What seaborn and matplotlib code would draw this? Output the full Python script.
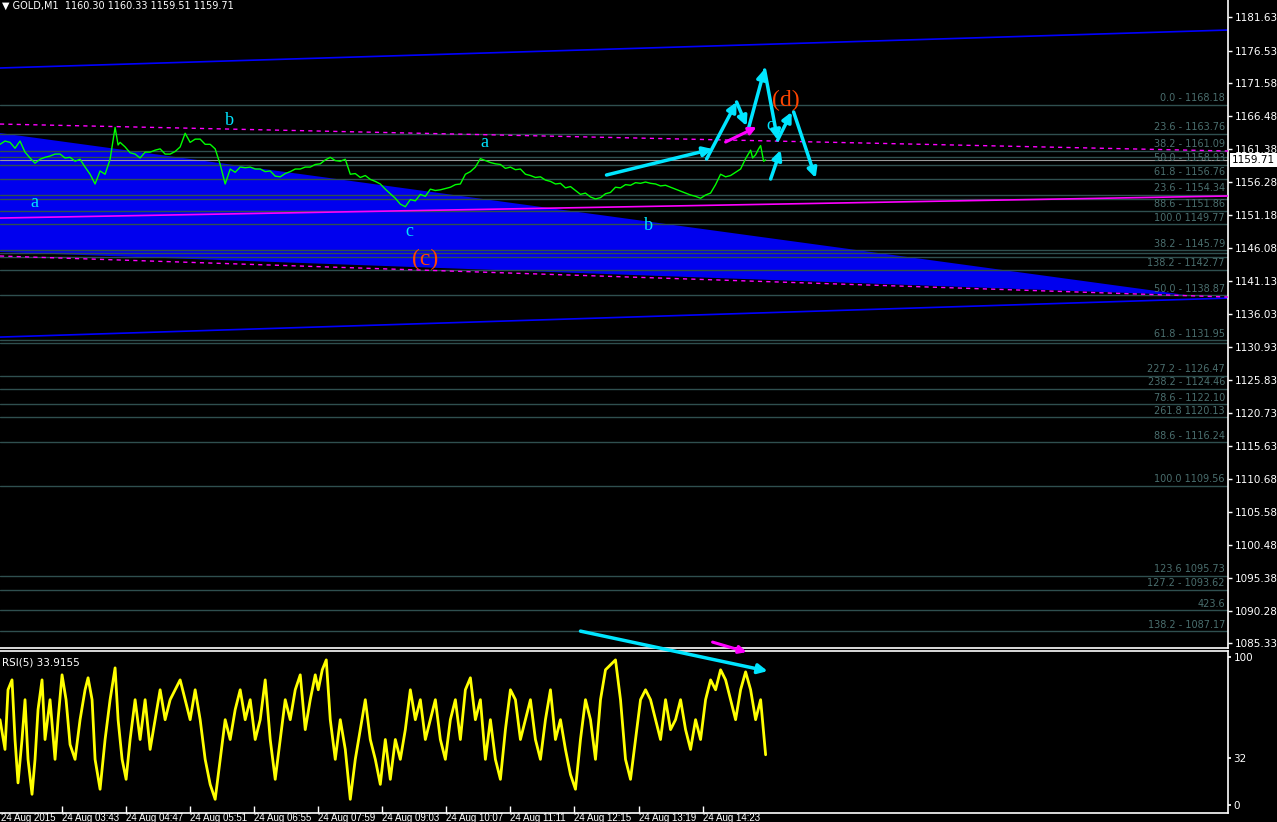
import numpy as np
import pandas as pd
import seaborn as sns
from matplotlib import pyplot as plt
from matplotlib.transforms import blended_transform_factory

sns.set_theme(style="dark")
plt.rcParams["font.family"] = ["DejaVu Sans"]

# ---- price (GOLD M1), bar index vs price ----
price_x = [0, 5, 10, 15, 20, 25, 30, 35, 40, 45, 50, 55, 60, 65, 70, 75, 80, 85, 90, 95,
           100, 105, 110, 115, 118, 120, 125, 130, 135, 140, 145, 150, 155, 160, 165, 170,
           175, 180, 185, 190, 195, 200, 205, 210, 215, 220, 225, 230, 235, 240, 245, 250,
           255, 260, 265, 270, 275, 280, 285, 290, 295, 300, 305, 310, 315, 320, 325, 330,
           335, 340, 345, 350, 355, 360, 365, 370, 375, 380, 385, 390, 395, 400, 405, 410,
           415, 420, 425, 430, 435, 440, 445, 450, 455, 460, 465, 470, 475, 480, 485, 490,
           495, 500, 505, 510, 515, 520, 525, 530, 535, 540, 545, 550, 555, 560, 565, 570,
           575, 580, 585, 590, 595, 600, 605, 610, 615, 620, 625, 630, 635, 640, 645, 650,
           655, 660, 665, 670, 675, 680, 685, 690, 695, 700, 705, 710, 715, 720, 725, 730,
           735, 740, 745, 750, 752, 755, 758, 760, 763, 765]
price_y = [1162.1, 1162.6, 1162.4, 1161.5, 1162.6, 1160.9, 1160.0, 1159.2, 1159.8, 1160.1,
           1160.3, 1160.6, 1160.6, 1160.0, 1160.1, 1159.5, 1159.8, 1158.6, 1157.5, 1156.0,
           1158.0, 1157.5, 1159.8, 1164.7, 1162.0, 1162.4, 1161.7, 1160.8, 1160.6, 1160.0,
           1160.9, 1160.9, 1161.2, 1161.4, 1160.6, 1160.6, 1161.0, 1161.7, 1163.8, 1162.4,
           1162.9, 1162.9, 1162.1, 1162.1, 1161.4, 1159.0, 1156.0, 1158.3, 1157.8, 1158.6,
           1158.5, 1158.6, 1158.3, 1158.3, 1157.9, 1158.0, 1157.2, 1157.1, 1157.6, 1157.9,
           1158.3, 1158.3, 1158.6, 1158.6, 1159.0, 1159.1, 1159.7, 1160.1, 1159.6, 1159.5,
           1159.8, 1157.5, 1157.6, 1157.0, 1157.3, 1156.7, 1156.4, 1156.0, 1155.2, 1154.5,
           1153.8, 1152.9, 1152.5, 1153.6, 1153.4, 1154.4, 1154.1, 1155.2, 1155.0, 1155.1,
           1155.3, 1155.5, 1155.9, 1156.0, 1157.5, 1157.9, 1158.6, 1159.9, 1159.6, 1159.3,
           1159.1, 1159.0, 1158.4, 1158.6, 1158.2, 1158.3, 1157.5, 1157.3, 1157.0, 1157.1,
           1156.6, 1156.4, 1156.0, 1156.1, 1155.4, 1155.6, 1155.0, 1154.4, 1154.6, 1154.0,
           1153.7, 1153.9, 1154.5, 1154.7, 1155.5, 1155.4, 1155.9, 1155.8, 1156.2, 1156.1,
           1156.3, 1156.1, 1156.0, 1155.7, 1155.8, 1155.5, 1155.2, 1154.9, 1154.6, 1154.3,
           1154.1, 1153.8, 1154.3, 1154.6, 1155.9, 1157.5, 1157.1, 1157.3, 1157.8, 1158.3,
           1159.9, 1161.2, 1160.0, 1160.5, 1161.4, 1161.9, 1159.5, 1159.7]

# ---- RSI(5) ----
rsi_x = [0, 5, 8, 12, 15, 18, 22, 25, 28, 32, 35, 38, 42, 45, 50, 55, 58, 62, 66, 70, 75,
         80, 85, 88, 92, 95, 100, 105, 110, 115, 118, 122, 126, 130, 135, 140, 145, 150,
         155, 160, 165, 170, 175, 180, 185, 190, 195, 200, 205, 210, 215, 220, 225, 230,
         235, 240, 245, 250, 255, 260, 265, 270, 275, 280, 285, 290, 295, 300, 305, 310,
         315, 318, 322, 326, 330, 335, 340, 345, 350, 355, 360, 365, 370, 375, 380, 385,
         390, 395, 400, 405, 410, 415, 420, 425, 430, 435, 440, 445, 450, 455, 460, 465,
         470, 475, 480, 485, 490, 495, 500, 505, 510, 515, 520, 525, 530, 535, 540, 545,
         550, 555, 560, 565, 570, 575, 580, 585, 590, 595, 600, 605, 610, 615, 620, 625,
         630, 635, 640, 645, 650, 655, 660, 665, 670, 675, 680, 685, 690, 695, 700, 705,
         710, 715, 720, 725, 730, 735, 740, 745, 750, 755, 760, 765]
rsi_y = [57.6, 37.5, 77.8, 84.5, 44.2, 14.9, 44.2, 71.1, 30.8, 7.2, 30.8, 64.4, 84.5, 44.2,
         71.1, 30.8, 57.6, 87.9, 71.1, 40.8, 30.8, 57.6, 77.8, 85.9, 71.1, 30.8, 10.6, 44.2,
         71.1, 92.6, 57.6, 30.8, 17.3, 44.2, 71.1, 44.2, 71.1, 37.5, 57.6, 77.8, 57.6, 71.1,
         77.8, 84.5, 71.1, 57.6, 77.8, 57.6, 30.8, 13.9, 3.8, 30.8, 57.6, 44.2, 64.4, 77.8,
         57.6, 71.1, 44.2, 57.6, 84.5, 44.2, 17.3, 44.2, 71.1, 57.6, 77.8, 87.9, 50.9, 71.1,
         87.9, 77.8, 91.3, 98.0, 57.6, 30.8, 57.6, 37.5, 3.8, 30.8, 50.9, 71.1, 44.2, 30.8,
         13.9, 44.2, 17.3, 44.2, 30.8, 50.9, 77.8, 57.6, 71.1, 44.2, 57.6, 71.1, 44.2, 30.8,
         57.6, 71.1, 44.2, 77.8, 85.9, 57.6, 71.1, 30.8, 57.6, 30.8, 17.3, 50.9, 77.8, 71.1,
         44.2, 57.6, 71.1, 44.2, 30.8, 57.6, 77.8, 44.2, 57.6, 37.5, 20.6, 10.6, 44.2, 71.1,
         57.6, 30.8, 71.1, 91.3, 94.6, 98.0, 71.1, 30.8, 17.3, 44.2, 71.1, 77.8, 71.1, 57.6,
         44.2, 71.1, 50.9, 57.6, 71.1, 50.9, 37.5, 57.6, 44.2, 71.1, 84.5, 77.8, 91.3, 84.5,
         71.1, 57.6, 77.8, 89.9, 77.8, 57.6, 71.1, 33.9]

# ---- fibonacci levels (labelled) ----
fib_levels = [1168.18, 1163.76, 1161.09, 1158.93, 1156.76, 1154.34, 1151.86, 1149.77,
              1145.79, 1142.77, 1138.87, 1131.95, 1126.47, 1124.46, 1122.10, 1120.13,
              1116.24, 1109.56, 1095.73, 1093.62, 1090.44, 1087.17]
fib_labels = ["0.0 - 1168.18", "23.6 - 1163.76", "38.2 - 1161.09", "50.0 - 1158.93",
              "61.8 - 1156.76", "23.6 - 1154.34", "88.6 - 1151.86", "100.0 1149.77",
              "38.2 - 1145.79", "138.2 - 1142.77", "50.0 - 1138.87", "61.8 - 1131.95",
              "227.2 - 1126.47", "238.2 - 1124.46", "78.6 - 1122.10", "261.8 1120.13",
              "88.6 - 1116.24", "100.0 1109.56", "123.6 1095.73", "127.2 - 1093.62",
              "423.6", "138.2 - 1087.17"]
extra_levels = [1160.2, 1153.7, 1145.34, 1144.81, 1131.55]

price_ticks = [1181.63, 1176.53, 1171.58, 1166.48, 1161.38, 1156.28, 1151.18, 1146.08,
               1141.13, 1136.03, 1130.93, 1125.83, 1120.73, 1115.63, 1110.68, 1105.58,
               1100.48, 1095.38, 1090.28, 1085.33]
time_ticks = [62, 126, 190, 254, 318, 382, 446, 510, 574, 638, 702]
time_labels = ["24 Aug 03:43", "24 Aug 04:47", "24 Aug 05:51", "24 Aug 06:55",
               "24 Aug 07:59", "24 Aug 09:03", "24 Aug 10:07", "24 Aug 11:11",
               "24 Aug 12:15", "24 Aug 13:19", "24 Aug 14:23"]

# wave labels
waves = [("a", 34, 1153.2), ("b", 229, 1165.84), ("c", 409, 1148.76), ("a", 484, 1162.45),
         ("b", 648, 1149.68), ("c", 770, 1165.07)]
big_waves = [("(c)", 425, 1144.45), ("(d)", 785, 1168.92)]

# drawn arrows (tail x, tail price, tip x, tip price)
cyan_arrows = [(606, 1157.38, 712, 1161.38), (706, 1159.84, 736, 1168.61),
               (736, 1168.61, 746, 1164.92), (748, 1164.61, 764, 1173.68),
               (764, 1173.53, 777, 1162.76), (777, 1162.76, 791, 1167.07),
               (793, 1167.07, 815, 1156.92), (770, 1156.76, 780, 1161.22),
               (580, 1087.22, 767, 1081.07)]
magenta_arrows = [(725, 1162.45, 756, 1164.76), (712, 1085.53, 746, 1083.99)]

W, H = 1277, 822
fig = plt.figure(figsize=(W / 100, H / 100), dpi=100, facecolor="black")
ax = fig.add_axes([0, 1 - 647.5 / H, 1228 / W, 647.5 / H], facecolor="black")
ax2 = fig.add_axes([0, (H - 812.5) / H, 1228 / W, (812.5 - 650.7) / H], facecolor="black")
ax.set_zorder(2)
ax2.set_zorder(1)

ax.set_xlim(0, 1227)
ax.set_ylim(1084.7, 1184.3)
ax2.set_xlim(0, 1227)
ax2.set_ylim(-5.1, 104.2)

CYAN = "#00e5ff"
MAG = "#ff00ff"
FIB = "#2f4f4f"

# blue triangle and channel
ax.fill([0, 0, 1185], [1163.84, 1145.53, 1138.92], color="#0000ee", lw=0, zorder=1)
ax.plot([0, 1227], [1173.84, 1179.68], color="#0000ff", lw=1.2, zorder=2)
ax.plot([0, 1227], [1132.45, 1138.45], color="#0000ff", lw=1.2, zorder=2)

# fib lines
for lvl, lab in zip(fib_levels, fib_labels):
    ax.axhline(lvl, color=FIB, lw=1, zorder=2)
    ax.text(1224, lvl + 0.25, lab, color="#4a6e6e", fontsize=7, ha="right", va="bottom",
            zorder=3)
for lvl in extra_levels:
    ax.axhline(lvl, color=FIB, lw=1, zorder=2)
ax.axhline(1159.71, color="#9a9a9a", lw=0.8, zorder=2)

# magenta trend lines
ax.plot([0, 1227], [1165.22, 1161.07], color=MAG, lw=1, ls=(0, (3, 3)), zorder=3)
ax.plot([0, 1227], [1150.76, 1154.15], color=MAG, lw=1.2, zorder=3)
ax.plot([0, 1227], [1144.92, 1138.61], color=MAG, lw=1, ls=(0, (3, 3)), zorder=3)

# price line
df_price = pd.DataFrame({"bar": price_x, "price": price_y})
sns.lineplot(data=df_price, x="bar", y="price", ax=ax, color="#00ff00", lw=1,
             estimator=None, sort=False, zorder=4)

# wave labels
for t, x, y in waves:
    ax.text(x, y, t, color=CYAN, fontsize=13, family="Liberation Serif", ha="center",
            va="center", zorder=5)
for t, x, y in big_waves:
    ax.text(x, y, t, color="#ff4500", fontsize=17, family="Liberation Serif", ha="center",
            va="center", zorder=5)

for x0, y0, x1, y1 in cyan_arrows:
    ax.annotate("", xy=(x1, y1), xytext=(x0, y0), annotation_clip=False,
                arrowprops=dict(arrowstyle="-|>", color=CYAN, lw=2.5, mutation_scale=14,
                                shrinkA=0, shrinkB=0), zorder=6)
for x0, y0, x1, y1 in magenta_arrows:
    ax.annotate("", xy=(x1, y1), xytext=(x0, y0), annotation_clip=False,
                arrowprops=dict(arrowstyle="-|>", color=MAG, lw=2.2, mutation_scale=11,
                                shrinkA=0, shrinkB=0), zorder=6)

# RSI
df_rsi = pd.DataFrame({"bar": rsi_x, "rsi": rsi_y})
sns.lineplot(data=df_rsi, x="bar", y="rsi", ax=ax2, color="#ffff00", lw=2,
             estimator=None, sort=False)

# axes styling
for a in (ax, ax2):
    a.grid(False)
    a.set_xlabel("")
    a.set_ylabel("")
    for s in a.spines.values():
        s.set_color("white")
        s.set_linewidth(1.2)
    a.spines["left"].set_visible(False)
    a.yaxis.tick_right()
ax.spines["top"].set_visible(False)

ax.set_xticks([])
ax.set_yticks(price_ticks)
ax.set_yticklabels([f"{p:.2f}" for p in price_ticks])
ax.tick_params(axis="y", colors="white", direction="out", length=3, width=1,
               labelsize=7.5, pad=2, right=True, left=False)

ax2.set_yticks([0, 32, 100])
ax2.set_yticklabels(["0", "32", "100"])
ax2.tick_params(axis="y", colors="white", length=2, labelsize=7.5, pad=2,
                right=True, left=False)
ax2.set_xticks(time_ticks)
ax2.set_xticklabels(time_labels, family="Liberation Sans")
ax2.tick_params(axis="x", colors="white", direction="in", length=5, width=1,
                labelsize=7, pad=0.5, bottom=True)
for lab in ax2.get_xticklabels():
    lab.set_horizontalalignment("left")
trans = blended_transform_factory(ax2.transData, ax2.transAxes)
ax2.text(1, -0.005, "24 Aug 2015", transform=trans, color="white", fontsize=7,
         family="Liberation Sans", ha="left", va="top", clip_on=False)

# bid price box
btrans = blended_transform_factory(ax.transAxes, ax.transData)
ax.text(1.003, 1159.71, "1159.71", transform=btrans, color="black", fontsize=7.5,
        ha="left", va="center", bbox=dict(fc="white", ec="none", pad=1.5), zorder=7,
        clip_on=False)

fig.text(2 / W, 1 - 6 / H, "\u25bc GOLD,M1  1160.30 1160.33 1159.51 1159.71",
         color="white", fontsize=7, ha="left", va="center")
ax2.text(2 / W * 1.0, 0.96, "RSI(5) 33.9155", transform=ax2.transAxes, color="white",
         fontsize=7.5, ha="left", va="top")

fig.savefig("out.png", dpi=100, facecolor="black")
